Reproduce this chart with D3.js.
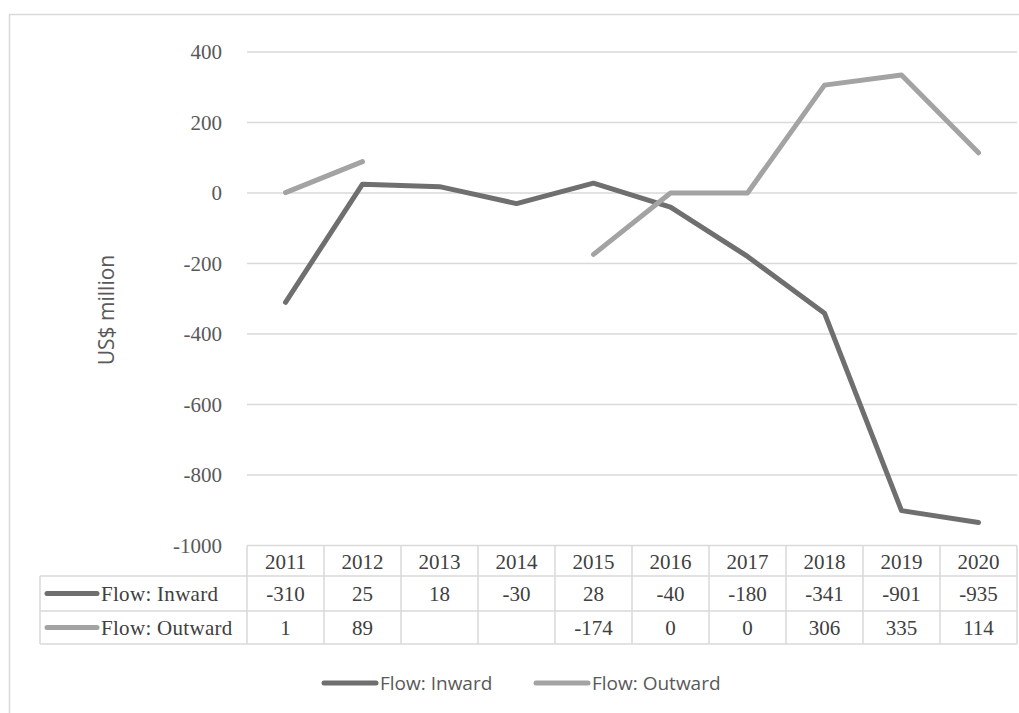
<!DOCTYPE html>
<html>
<head>
<meta charset="utf-8">
<script src="https://cdn.jsdelivr.net/npm/d3@7"></script>
<style>
  body { margin: 0; background: #fff; }
  svg { display: block; }
</style>
</head>
<body>
<svg width="1019" height="713"></svg>
<script>
let years = ["2011", "2012", "2013", "2014", "2015", "2016", "2017", "2018", "2019", "2020"];
let inward = [-310, 25, 18, -30, 28, -40, -180, -341, -901, -935];
let outward = [1, 89, null, null, -174, 0, 0, 306, 335, 114];
let yTicks = [400, 200, 0, -200, -400, -600, -800, -1000];

let seriesNames = ["Flow: Inward", "Flow: Outward"];
let seriesColors = ["#6f6f6f", "#a3a3a3"];
let seriesData = [inward, outward];

let svg = d3.select("svg");

// plot area
var plot = {l: 247, r: 1017, t: 52, b: 545.5};
var gridColor = "#d9d9d9";

var x = d3.scaleBand()
  .domain(years)
  .range([plot.l, plot.r]);

var y = d3.scaleLinear()
  .domain([-1000, 400])
  .range([plot.b, plot.t]);

// outer frame (runs off the bottom/right of the picture)
svg.append("rect")
  .attr("x", 9.5).attr("y", 14.5)
  .attr("width", 1040).attr("height", 740)
  .attr("fill", "none")
  .attr("stroke", "#d9d9d9")
  .attr("stroke-width", 1.5);

// gridlines
svg.append("g")
  .selectAll("line")
  .data(yTicks.filter(d => d !== -1000))
  .join("line")
    .attr("x1", plot.l)
    .attr("x2", plot.r)
    .attr("y1", d => y(d))
    .attr("y2", d => y(d))
    .attr("stroke", gridColor)
    .attr("stroke-width", 1.5);

// y tick labels
svg.append("g")
  .selectAll("text")
  .data(yTicks)
  .join("text")
    .attr("x", 222)
    .attr("y", d => y(d))
    .attr("dy", "0.35em")
    .attr("text-anchor", "end")
    .attr("font-family", "'Liberation Serif', serif")
    .attr("font-size", 21)
    .attr("fill", "#595959")
    .text(d => d);

// axis title
svg.append("text")
  .attr("transform", "translate(114, 310) rotate(-90)")
  .attr("text-anchor", "middle")
  .attr("font-family", "'Open Sans', sans-serif")
  .attr("font-size", 21)
  .attr("fill", "#595959")
  .text("US$ million");

// lines
seriesData.forEach((vals, i) => {
  var line = d3.line()
    .defined(d => d != null)
    .x((d, j) => x(years[j]) + x.bandwidth() / 2)
    .y(d => y(d));
  svg.append("path")
    .datum(vals)
    .attr("d", line)
    .attr("fill", "none")
    .attr("stroke", seriesColors[i])
    .attr("stroke-width", 5)
    .attr("stroke-linejoin", "round")
    .attr("stroke-linecap", "round");
});

// data table
var rowTop = [545.5, 576, 611, 644];
var labelLeft = 40;
var tableG = svg.append("g");
var serif = "'Liberation Serif', 'Times New Roman', serif";

// horizontal rules
tableG.append("line")
  .attr("x1", plot.l).attr("x2", plot.r)
  .attr("y1", rowTop[0]).attr("y2", rowTop[0])
  .attr("stroke", gridColor).attr("stroke-width", 1.5);
[rowTop[1], rowTop[2], rowTop[3]].forEach(yy => {
  tableG.append("line")
    .attr("x1", labelLeft).attr("x2", plot.r)
    .attr("y1", yy).attr("y2", yy)
    .attr("stroke", gridColor).attr("stroke-width", 1.5);
});
// vertical rules
tableG.append("line")
  .attr("x1", labelLeft).attr("x2", labelLeft)
  .attr("y1", rowTop[1]).attr("y2", rowTop[3])
  .attr("stroke", gridColor).attr("stroke-width", 1.5);
tableG.selectAll(".vrule")
  .data(years.concat(["end"]))
  .join("line")
    .attr("class", "vrule")
    .attr("x1", d => d === "end" ? plot.r : x(d))
    .attr("x2", d => d === "end" ? plot.r : x(d))
    .attr("y1", rowTop[0]).attr("y2", rowTop[3])
    .attr("stroke", gridColor).attr("stroke-width", 1.5);

// header years
tableG.selectAll(".yr")
  .data(years)
  .join("text")
    .attr("class", "yr")
    .attr("x", d => x(d) + x.bandwidth() / 2)
    .attr("y", (rowTop[0] + rowTop[1]) / 2 + 1)
    .attr("dy", "0.35em")
    .attr("text-anchor", "middle")
    .attr("font-family", serif)
    .attr("font-size", 21)
    .attr("fill", "#404040")
    .text(d => d);

// rows
seriesData.forEach((vals, i) => {
  var cy = (rowTop[i + 1] + rowTop[i + 2]) / 2;
  tableG.append("line")
    .attr("x1", 47).attr("x2", 97)
    .attr("y1", cy).attr("y2", cy)
    .attr("stroke", seriesColors[i])
    .attr("stroke-width", 5)
    .attr("stroke-linecap", "round");
  tableG.append("text")
    .attr("x", 101)
    .attr("y", cy)
    .attr("dy", "0.35em")
    .attr("font-family", serif)
    .attr("font-size", 21)
    .attr("letter-spacing", 0.3)
    .attr("fill", "#404040")
    .text(seriesNames[i]);
  tableG.selectAll(".v" + i)
    .data(vals)
    .join("text")
      .attr("class", "v" + i)
      .attr("x", (d, j) => x(years[j]) + x.bandwidth() / 2)
      .attr("y", cy)
      .attr("dy", "0.35em")
      .attr("text-anchor", "middle")
      .attr("font-family", serif)
      .attr("font-size", 21)
      .attr("fill", "#404040")
      .text(d => d == null ? "" : d);
});

// legend
var legendX = [324, 536];
var legendY = 683;
seriesNames.forEach((name, i) => {
  svg.append("line")
    .attr("x1", legendX[i]).attr("x2", legendX[i] + 52)
    .attr("y1", legendY).attr("y2", legendY)
    .attr("stroke", seriesColors[i])
    .attr("stroke-width", 5)
    .attr("stroke-linecap", "round");
  svg.append("text")
    .attr("x", legendX[i] + 56)
    .attr("y", legendY)
    .attr("dy", "0.35em")
    .attr("font-family", "'Open Sans', sans-serif")
    .attr("font-size", 19)
    .attr("fill", "#595959")
    .text(name);
});
</script>
</body>
</html>
